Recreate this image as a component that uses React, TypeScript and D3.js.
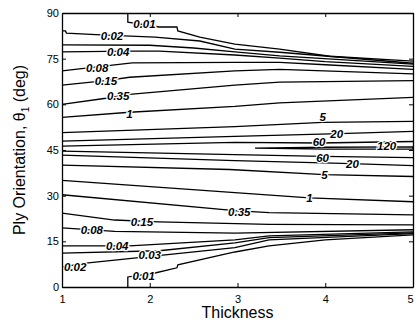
import { useEffect, useRef } from "react";
import * as d3 from "d3";

type Pt = [number, number];

// contour lines: [thickness, angle]
const upper001: Pt[] = [[1.75, 90], [1.75, 87], [2.11, 85.4], [2.31, 85.4], [2.32, 84.1], [2.57, 82.1], [2.97, 79.8], [3.48, 78.1], [4.05, 75.8], [5, 74.2]];
const upper002: Pt[] = [[1, 84.1], [1.04, 84.1], [1.05, 83.4], [1.5, 82.7], [2.06, 82.1], [2.57, 80.8], [2.97, 78.1], [3.48, 77.1], [5, 73.5]];
const upper003: Pt[] = [[1, 79.5], [2, 79.4], [2.5, 78.5], [2.97, 77.2], [3.48, 75.9], [5, 73.2]];
const upper004: Pt[] = [[1, 77.2], [1.77, 77.5], [2.11, 77.5], [2.97, 76.2], [3.48, 75.2], [4, 74.0], [5, 72.5]];
const upper008: Pt[] = [[1, 71.0], [1.3, 72.0], [1.8, 73.6], [2.97, 73.8], [3.48, 73.8], [4, 73.0], [5, 71.5]];
const upper015: Pt[] = [[1, 66.3], [1.5, 67.8], [1.77, 68.9], [2.97, 71.0], [3.48, 71.5], [5, 70.0]];
const upper035: Pt[] = [[1, 60], [1.5, 62], [1.77, 63.3], [2.97, 66.3], [3.48, 67.3], [5, 67.8]];
const upper1: Pt[] = [[1, 55.7], [1.77, 57.4], [2.97, 59.3], [3.48, 60.5], [5, 62.3]];
const upper5: Pt[] = [[1, 50.7], [2.97, 52.7], [3.97, 54.1], [5, 54.4]];
const upper20: Pt[] = [[1, 47.9], [2.97, 49.5], [4.16, 50.4], [5, 51.1]];
const upper60: Pt[] = [[1, 46.3], [2.97, 47.5], [3.93, 47.3], [5, 47.8]];
const loop120: Pt[] = [[3.2, 45.6], [4, 45.9], [5, 46.0], [5, 45.3], [4, 45.3], [3.2, 45.6]];
const lower60: Pt[] = [[1, 44.6], [2.97, 43.5], [3.97, 42.9], [5, 42.5]];
const lower20: Pt[] = [[1, 43.3], [2.97, 41.5], [4.3, 40.5], [5, 39.9]];
const lower5: Pt[] = [[1, 40.0], [2.91, 38.6], [3.99, 36.9], [5, 36.3]];
const lower1: Pt[] = [[1, 35.0], [2.97, 31.0], [3.82, 29.3], [5, 28.0]];
const lower035: Pt[] = [[1, 30.3], [2.97, 25.1], [3.36, 24.4], [5, 23.7]];
const lower015: Pt[] = [[1, 24.3], [1.6, 22], [2.1, 21.4], [3.36, 20.6], [5, 20.4]];
const lower008: Pt[] = [[1, 19.4], [1.6, 18.3], [2.97, 17.7], [5, 18.8]];
const lower004: Pt[] = [[1, 13.5], [1.77, 13.5], [2.97, 15.5], [3.36, 16.8], [5, 18.1]];
const lower003: Pt[] = [[1, 11.1], [2.11, 11.9], [2.97, 14.5], [3.36, 16.2], [5, 17.8]];
const lower002: Pt[] = [[1, 6.6], [1.3, 7.9], [2.97, 12.9], [3.36, 15.5], [5, 17.5]];
const lower001: Pt[] = [[1.75, 0], [1.75, 3.3], [2.06, 4.6], [2.31, 6.3], [2.32, 7.3], [2.97, 11.5], [3.36, 13.5], [4, 15.5], [5, 17.1]];

const contours = [upper001, upper002, upper003, upper004, upper008, upper015, upper035, upper1, upper5, upper20, upper60, loop120,
  lower60, lower20, lower5, lower1, lower035, lower015, lower008, lower004, lower003, lower002, lower001];

// contour labels: [thickness, angle, text]
const labels: [number, number, string][] = [
  [1.94, 86.5, "0.01"], [1.57, 82.4, "0.02"], [1.64, 77.3, "0.04"], [1.40, 71.8, "0.08"], [1.50, 67.8, "0.15"],
  [1.64, 62.6, "0.35"], [1.77, 56.7, "1"], [3.97, 55.7, "5"], [4.13, 50.1, "20"], [3.93, 47.8, "60"],
  [4.70, 46.2, "120"], [3.97, 42.5, "60"], [4.31, 40.5, "20"], [3.99, 36.9, "5"], [3.82, 29.3, "1"],
  [3.02, 24.7, "0.35"], [1.91, 21.4, "0.15"], [1.34, 18.8, "0.08"], [1.63, 13.5, "0.04"], [2.0, 10.5, "0.03"],
  [1.15, 6.6, "0.02"], [1.93, 3.6, "0.01"],
];

const xTicks = [1, 2, 3, 4, 5];
const yTicks = [0, 15, 30, 45, 60, 75, 90];

const W = 415, H = 324;
const m = { l: 62, r: 2, t: 13, b: 37 };

const App = () => {
  const svgRef = useRef<SVGSVGElement>(null);

  useEffect(() => {
    const svg = d3.select(svgRef.current);
    svg.selectAll("*").remove();

    const x = d3.scaleLinear().domain([1, 5]).range([m.l, W - m.r]);
    const y = d3.scaleLinear().domain([0, 90]).range([H - m.b, m.t]);

    const line = d3.line<Pt>().x((d) => x(d[0])).y((d) => y(d[1]));

    svg.append("g")
      .selectAll("path")
      .data(contours)
      .join("path")
      .attr("d", (d) => line(d))
      .attr("fill", "none")
      .attr("stroke", "black")
      .attr("stroke-width", 1.3);

    svg.append("g")
      .selectAll("text")
      .data(labels)
      .join("text")
      .attr("x", (d) => x(d[0]))
      .attr("y", (d) => y(d[1]))
      .attr("dy", "0.35em")
      .attr("text-anchor", "middle")
      .attr("font-family", "Liberation Sans, Arial, sans-serif")
      .attr("font-size", 11.5)
      .attr("font-weight", "bold")
      .attr("font-style", "italic")
      .attr("stroke", "white")
      .attr("stroke-width", 2.5)
      .attr("paint-order", "stroke")
      .attr("fill", "black")
      .text((d) => d[2]);

    // axes with inward ticks
    const ax = svg.append("g").attr("font-family", "Liberation Sans, Arial, sans-serif");
    const bottom = ax.append("g")
      .attr("transform", `translate(0,${H - m.b})`)
      .call(d3.axisBottom(x).tickValues(xTicks).tickSizeInner(-4).tickSizeOuter(0).tickPadding(8).tickFormat(d3.format("d")));
    bottom.selectAll("text").filter((d) => d === 5).attr("dx", -3);
    ax.append("g")
      .attr("transform", `translate(0,${m.t})`)
      .call(d3.axisTop(x).tickValues(xTicks).tickSizeInner(-4).tickSizeOuter(0).tickFormat(() => ""));
    ax.append("g")
      .attr("transform", `translate(${m.l},0)`)
      .call(d3.axisLeft(y).tickValues(yTicks).tickSizeInner(-4).tickSizeOuter(0).tickPadding(3).tickFormat(d3.format("d")));
    ax.append("g")
      .attr("transform", `translate(${W - m.r},0)`)
      .call(d3.axisRight(y).tickValues(yTicks).tickSizeInner(-4).tickSizeOuter(0).tickFormat(() => ""));
    ax.selectAll(".domain").attr("stroke", "black").attr("stroke-width", 1.3);
    ax.selectAll("text").attr("font-size", 11).attr("fill", "black").attr("font-family", "Liberation Sans, Arial, sans-serif");

    svg.append("text")
      .attr("x", (m.l + W - m.r) / 2)
      .attr("y", H - 6)
      .attr("text-anchor", "middle")
      .attr("font-family", "Liberation Sans, Arial, sans-serif")
      .attr("font-size", 16)
      .text("Thickness");

    const yl = svg.append("text")
      .attr("transform", `translate(25,${(m.t + H - m.b) / 2}) rotate(-90)`)
      .attr("text-anchor", "middle")
      .attr("font-family", "Liberation Sans, Arial, sans-serif")
      .attr("font-size", 16);
    yl.append("tspan").text("Ply Orientation, θ");
    yl.append("tspan").attr("font-size", 10).attr("dy", 4).text("1");
    yl.append("tspan").attr("dy", -4).text(" (deg)");
  }, []);

  return <svg ref={svgRef} width={W} height={H} style={{ position: "absolute", left: 0, top: 0 }}></svg>;
};

export default App;
